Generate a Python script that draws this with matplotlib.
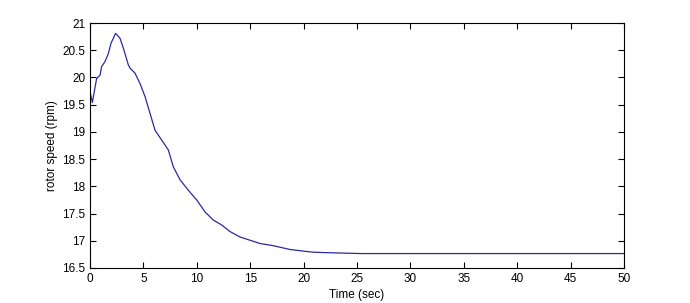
import matplotlib
matplotlib.use("Agg")
import matplotlib.pyplot as plt

# rotor speed response
time_s = [0.0, 0.22, 0.62, 0.94, 1.09, 1.4, 1.72, 1.97, 2.4, 2.81, 3.12, 3.59,
          3.75, 4.21, 4.68, 5.15, 5.62, 6.09, 6.71, 7.33, 7.8, 8.43, 9.2, 9.99,
          10.77, 11.55, 12.33, 13.1, 14.04, 14.98, 15.92, 17.16, 18.73, 19.98,
          20.9, 22.47, 25.4, 30.0, 40.0, 50.0]
rotor_speed = [19.74, 19.54, 19.98, 20.04, 20.2, 20.29, 20.44, 20.63, 20.81, 20.72, 20.54, 20.23,
               20.17, 20.08, 19.89, 19.65, 19.34, 19.03, 18.85, 18.67, 18.36, 18.12, 17.93, 17.75,
               17.53, 17.38, 17.29, 17.17, 17.07, 17.01, 16.95, 16.91, 16.84, 16.81,
               16.79, 16.78, 16.765, 16.765, 16.765, 16.765]

xticks = [0, 5, 10, 15, 20, 25, 30, 35, 40, 45, 50]
yticks = [16.5, 17, 17.5, 18, 18.5, 19, 19.5, 20, 20.5, 21]

plt.rcParams['font.family'] = ['Liberation Sans', 'DejaVu Sans']

fig = plt.figure(figsize=(6.9, 3.03), dpi=100)
ax = fig.add_axes([90/690, 1 - 268/303, (624-90)/690, (268-23)/303])

ax.plot(time_s, rotor_speed, color='#2a2aa0', linewidth=0.9)

ax.set_xlim(0, 50)
ax.set_ylim(16.5, 21)
ax.set_xticks(xticks)
ax.set_xticklabels([str(t) for t in xticks])
ax.set_yticks(yticks)
ax.set_yticklabels([('%g' % v) for v in yticks])
ax.tick_params(direction='in', top=True, right=True, labelsize=8.5, length=4, width=0.8)
for s in ax.spines.values():
    s.set_linewidth(0.8)

ax.set_xlabel('Time (sec)', fontsize=8.5, labelpad=3)
ax.set_ylabel('rotor speed (rpm)', fontsize=8.5, labelpad=3)

fig.savefig('out.png', dpi=100)
